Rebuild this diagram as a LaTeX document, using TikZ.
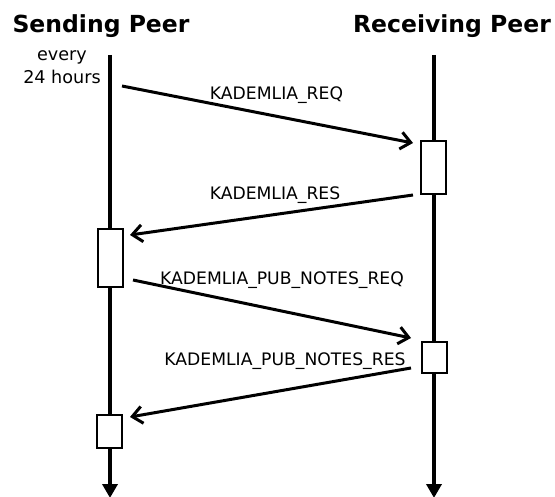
\documentclass[tikz,border=0pt]{standalone}
\usepackage{fontspec}
\setmainfont{DejaVu Sans}
\usetikzlibrary{arrows.meta}

\begin{document}
\begin{tikzpicture}[
    x=1pt, y=-1pt,
    peer/.style={font=\bfseries\fontsize{23.5}{28}\selectfont, anchor=base},
    msg/.style={font=\fontsize{17.2}{20}\selectfont, anchor=base},
    note/.style={font=\fontsize{17.6}{23}\selectfont, align=center},
    life/.style={line width=4.5pt, -{Triangle[width=15pt,length=14pt]}},
    arrow/.style={line width=3pt, -{Straight Barb[length=10pt,width=17pt,line width=3pt]}},
    act/.style={rectangle, draw, line width=2.6pt, fill=white, minimum width=25pt, inner sep=0pt}
]
    \useasboundingbox (0,0) rectangle (555,497);

    % --- Peers and lifelines ---
    \node[peer] (sender) at (101,32.7) {Sending Peer};
    \node[peer] (receiver) at (452,32.7) {Receiving Peer};
    \coordinate (sTop) at (110,55);
    \coordinate (sEnd) at (110,498);
    \coordinate (rTop) at (434,55);
    \coordinate (rEnd) at (434,498);
    \draw[life] (sTop) -- (sEnd);
    \draw[life] (rTop) -- (rEnd);

    \node[note] (every) at (62,67.5) {every\\24 hours};

    % --- Activation boxes ---
    \node[act, minimum height=53pt] (rAct1) at (433.5,167.5) {};
    \node[act, minimum height=58pt] (sAct1) at (110.5,258) {};
    \node[act, minimum height=31pt] (rAct2) at (434.5,357.5) {};
    \node[act, minimum height=33pt] (sAct2) at (109.5,431.5) {};

    % --- Message end points ---
    \coordinate (reqFrom) at (122,86);
    \coordinate (reqTo) at (413,143);
    \coordinate (resFrom) at (413,195);
    \coordinate (resTo) at (130,235);
    \coordinate (pubReqFrom) at (133,280);
    \coordinate (pubReqTo) at (411,338);
    \coordinate (pubResFrom) at (411,368);
    \coordinate (pubResTo) at (130,417);

    % --- Messages ---
    \draw[arrow] (reqFrom) -- (reqTo);
    \draw[arrow] (resFrom) -- (resTo);
    \draw[arrow] (pubReqFrom) -- (pubReqTo);
    \draw[arrow] (pubResFrom) -- (pubResTo);

    \node[msg] (reqLbl) at (276.5,99.3) {KADEMLIA\_REQ};
    \node[msg] (resLbl) at (275,200) {KADEMLIA\_RES};
    \node[msg] (pubReqLbl) at (282,284.5) {KADEMLIA\_PUB\_NOTES\_REQ};
    \node[msg] (pubResLbl) at (285,365.5) {KADEMLIA\_PUB\_NOTES\_RES};

\end{tikzpicture}
\end{document}
